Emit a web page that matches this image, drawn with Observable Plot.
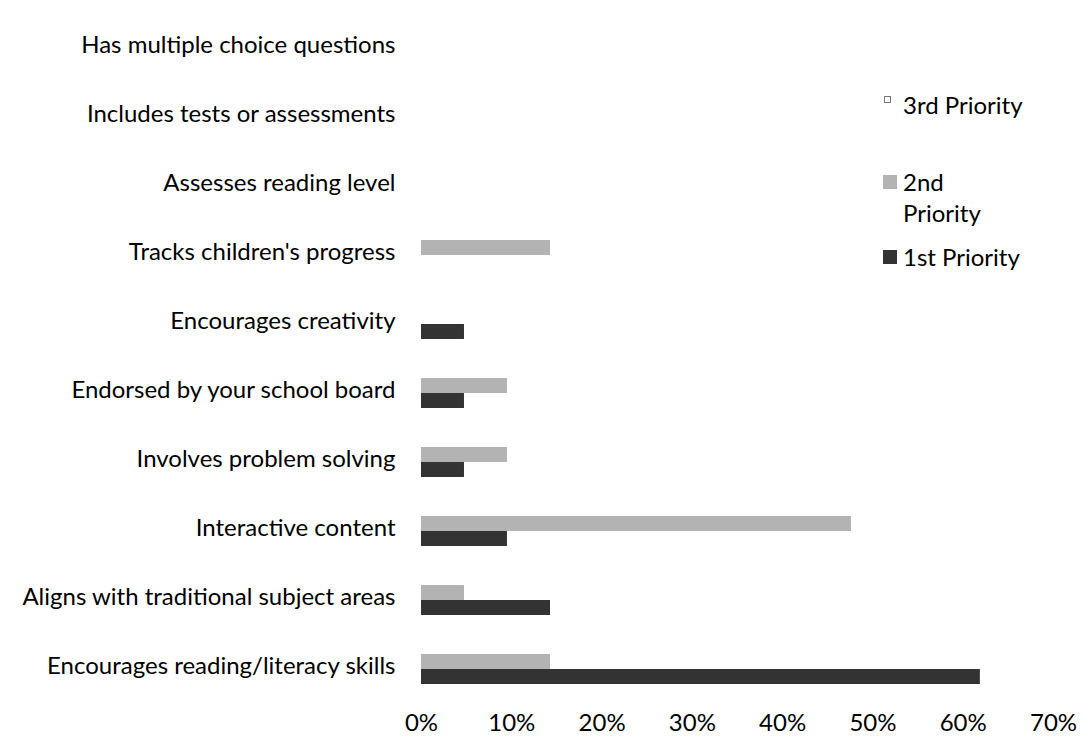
<!DOCTYPE html>
<html>
<head>
<meta charset="utf-8">
<script src="https://cdn.jsdelivr.net/npm/d3@7"></script>
<script src="https://cdn.jsdelivr.net/npm/@observablehq/plot@0.6"></script>
<style>
  body { margin: 0; background: #fff; font-family: Lato, "Open Sans", sans-serif; }
  #wrap { position: relative; width: 1082px; height: 746px; }
  .legend { position: absolute; left: 883px; font-size: 24px; color: #000; font-family: Lato, sans-serif; }
  .item { position: absolute; left: 0; white-space: nowrap; }
  .sw { position: absolute; }
  .lab { position: absolute; left: 20px; line-height: 31px; }
</style>
</head>
<body>
<div id="wrap"></div>
<script>
// Categories, top to bottom as drawn
const categories = [
  "Has multiple choice questions",
  "Includes tests or assessments",
  "Assesses reading level",
  "Tracks children's progress",
  "Encourages creativity",
  "Endorsed by your school board",
  "Involves problem solving",
  "Interactive content",
  "Aligns with traditional subject areas",
  "Encourages reading/literacy skills"
];
// Percent of respondents per priority
const firstPriority  = [0, 0, 0, 0, 4.76, 4.76, 4.76, 9.52, 14.29, 61.9];
const secondPriority = [0, 0, 0, 14.29, 0, 9.52, 9.52, 47.62, 4.76, 14.29];
const thirdPriority  = [0, 0, 0, 0, 0, 0, 0, 0, 0, 0];
const seriesNames = ["3rd Priority", "2nd Priority", "1st Priority"];
const xTicks = [0, 10, 20, 30, 40, 50, 60, 70];

const data = [];
categories.forEach((c, i) => {
  data.push({category: c, series: "2nd Priority", value: secondPriority[i]});
  data.push({category: c, series: "1st Priority", value: firstPriority[i]});
  data.push({category: c, series: "3rd Priority", value: thirdPriority[i]});
});
const bars = data.filter(d => d.value > 0 && d.series !== "3rd Priority");

const chart = Plot.plot({
  width: 1082,
  height: 746,
  marginLeft: 421,
  marginRight: 29,
  marginTop: 13,
  marginBottom: 43,
  style: {fontSize: "24px", fontFamily: "Lato, sans-serif", color: "#000", background: "#fff"},
  x: {domain: [0, 70], ticks: xTicks, tickFormat: d => d + "%", label: null},
  fy: {domain: categories, padding: 0, label: null, axis: null},
  y: {domain: ["2nd Priority", "1st Priority"], axis: null, paddingInner: 0, paddingOuter: 1.22},
  color: {domain: seriesNames, range: ["#ffffff", "#b3b3b3", "#333333"]},
  marks: [
    Plot.axisX({ticks: xTicks, tickFormat: d => d + "%", tickSize: 0, tickPadding: 10, label: null, fill: "#000"}),
    Plot.axisFy({anchor: "left", tickSize: 0, tickPadding: 26, label: null, dy: -3, fill: "#000"}),
    Plot.barX(bars, {x: "value", y: "series", fy: "category", fill: "series"})
  ]
});
document.getElementById("wrap").appendChild(chart);

// Legend (HTML)
const legend = document.createElement("div");
legend.className = "legend";
legend.style.top = "0px";
const legendItems = [
  {name: seriesNames[0], top: 89, html: "3rd Priority", sw: {top: 7, left: 1, w: 5, h: 5, fill: "#fff", stroke: "#777"}},
  {name: seriesNames[1], top: 166, html: "2nd<br>Priority", sw: {top: 9, left: 0, w: 14, h: 14, fill: "#b3b3b3", stroke: "none"}},
  {name: seriesNames[2], top: 241, html: "1st Priority", sw: {top: 9, left: 0, w: 14, h: 14, fill: "#333333", stroke: "none"}}
];
legendItems.forEach(it => {
  const item = document.createElement("div");
  item.className = "item";
  item.style.top = it.top + "px";
  const sw = document.createElement("div");
  sw.className = "sw";
  sw.style.top = it.sw.top + "px";
  sw.style.left = it.sw.left + "px";
  sw.style.width = it.sw.w + "px";
  sw.style.height = it.sw.h + "px";
  sw.style.background = it.sw.fill;
  if (it.sw.stroke !== "none") sw.style.border = "1px solid " + it.sw.stroke;
  const lab = document.createElement("div");
  lab.className = "lab";
  lab.innerHTML = it.html;
  item.appendChild(sw);
  item.appendChild(lab);
  legend.appendChild(item);
});
document.getElementById("wrap").appendChild(legend);
</script>
</body>
</html>
